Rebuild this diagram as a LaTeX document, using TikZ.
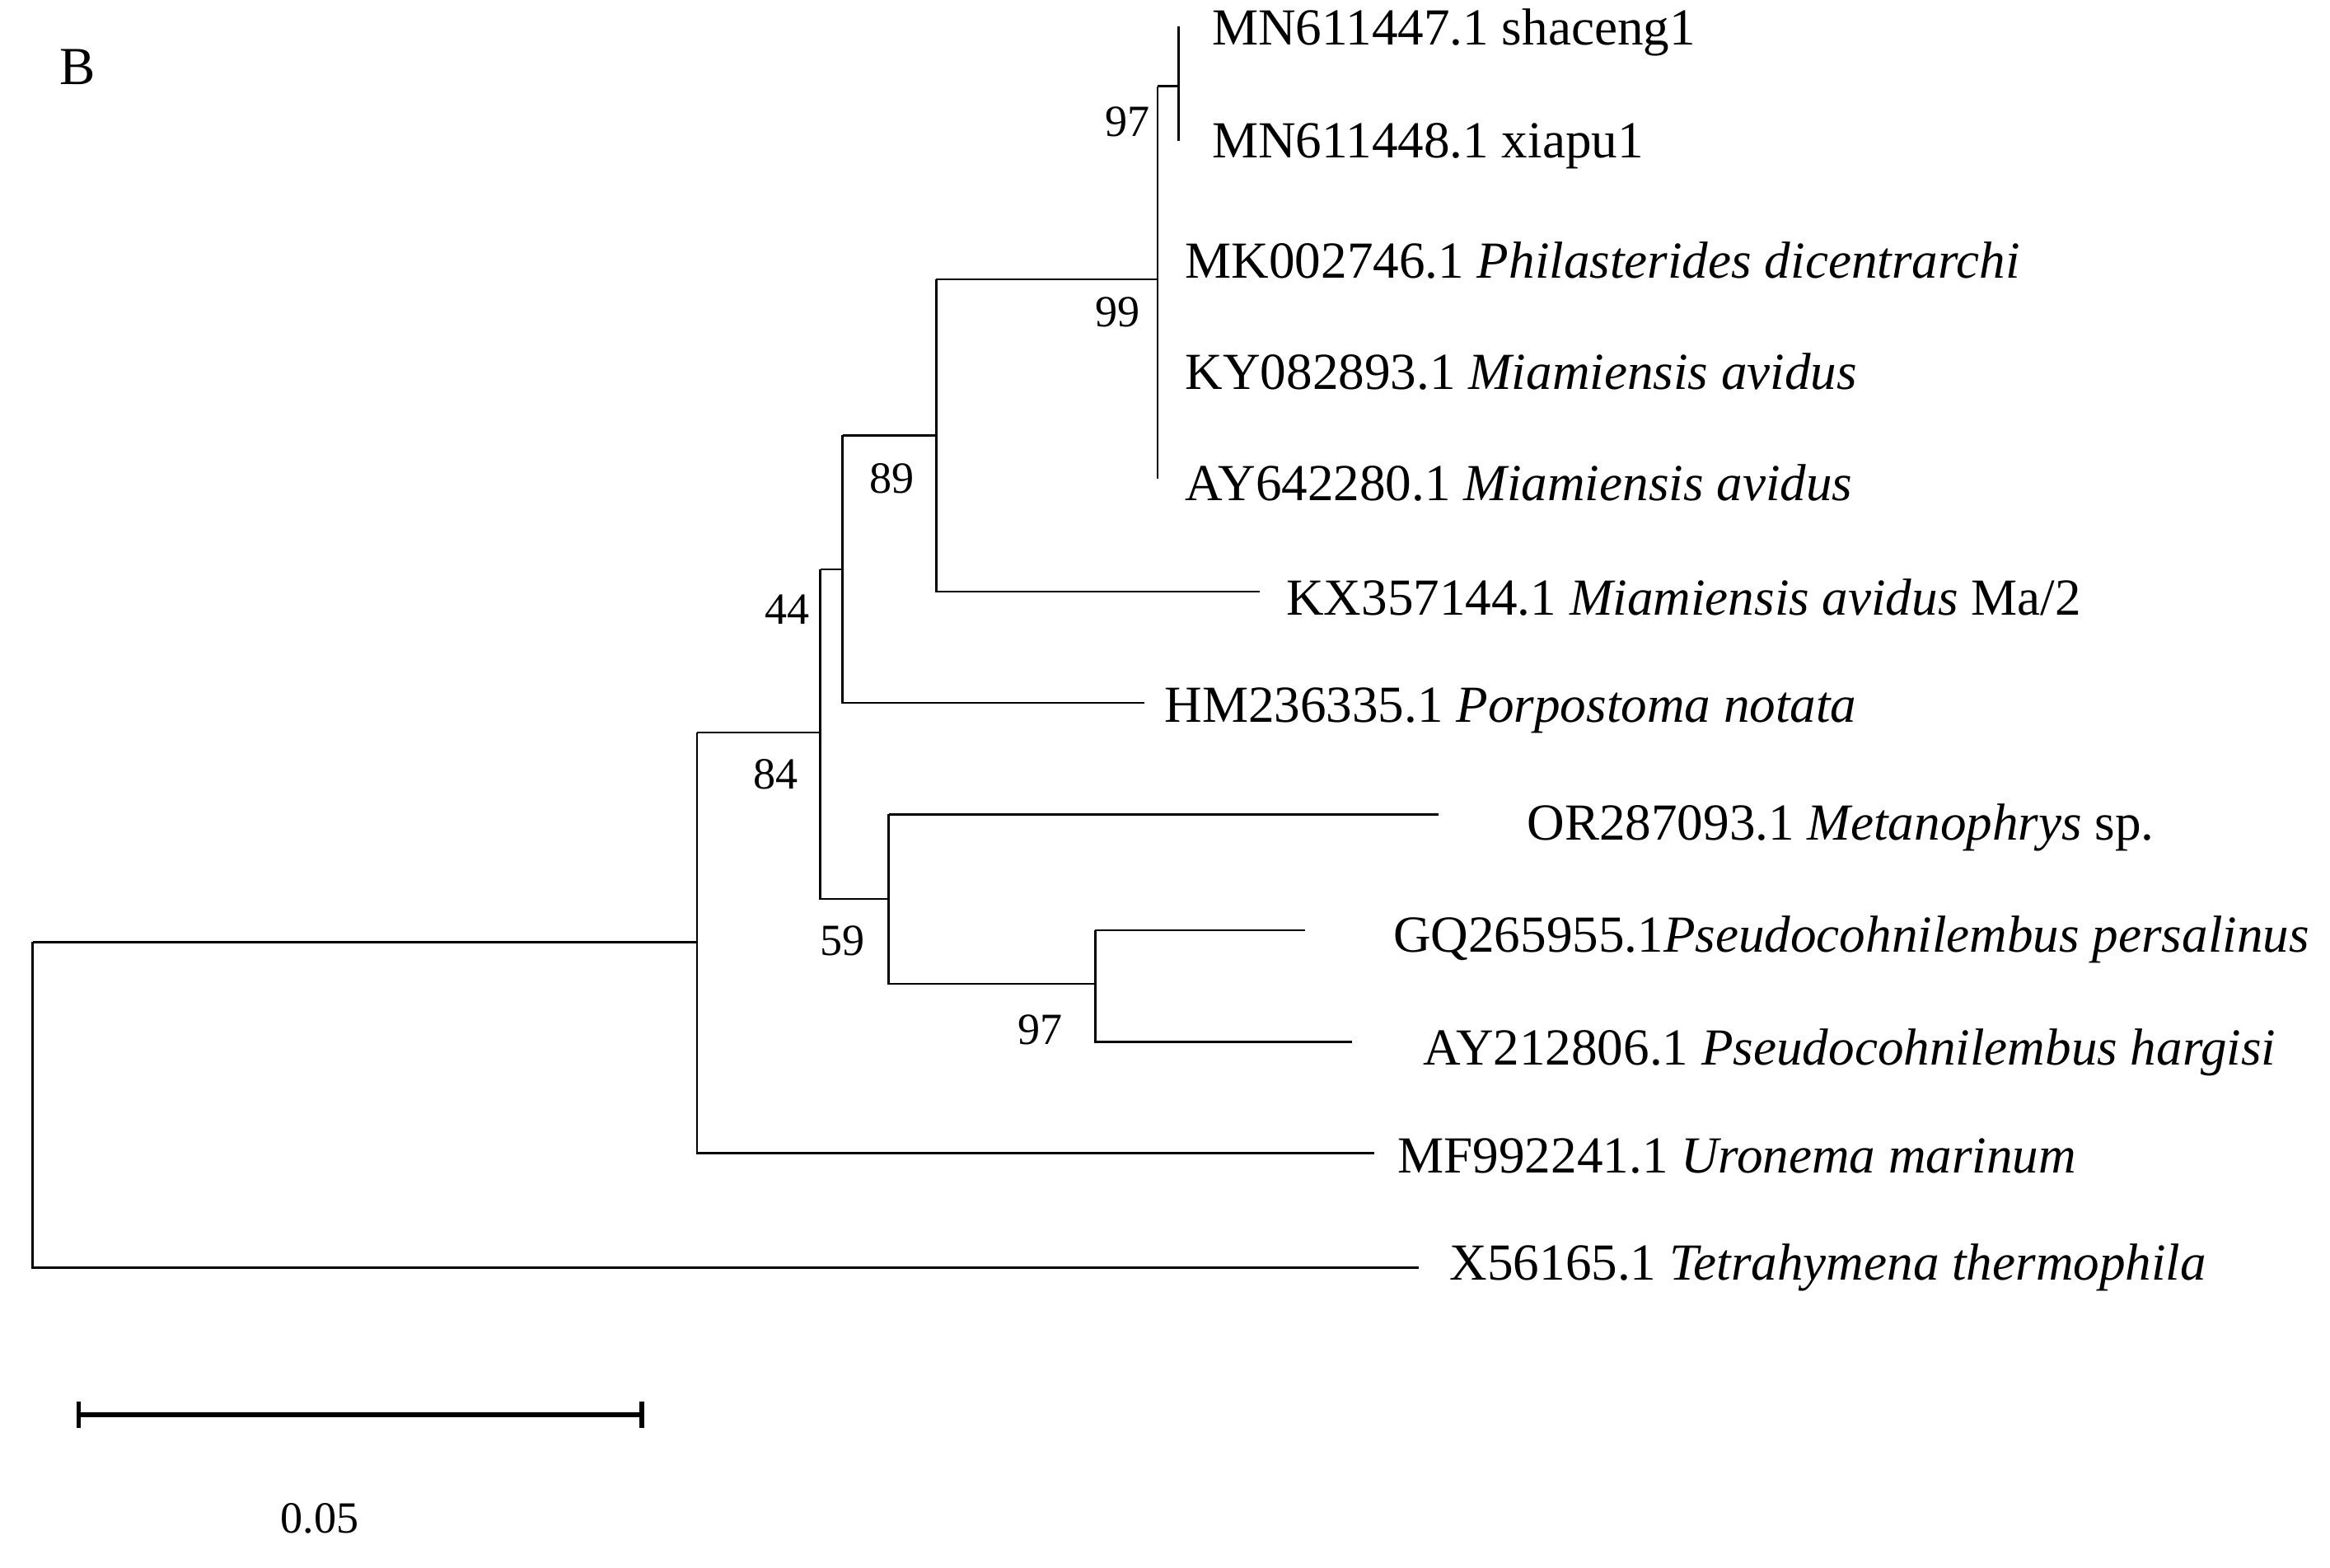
\documentclass[tikz,border=0pt]{standalone}
\usepackage{fontspec}
\setmainfont{Liberation Serif}
\begin{document}
\begin{tikzpicture}[x=0.5pt,y=-0.5pt,line width=0.7pt,
  tip/.style={anchor=west,inner sep=0pt,font=\fontsize{17.5}{20}\selectfont},
  bs/.style={inner sep=0pt,font=\fontsize{15}{18}\selectfont}]
\useasboundingbox (0,0) rectangle (1568,1055);
\node[anchor=center,font=\fontsize{18}{20}\selectfont] (B) at (52,45) {B};
% tips
\node[tip] (t1) at (815,22) {MN611447.1 shaceng1};
\node[tip] (t2) at (815,98) {MN611448.1 xiapu1};
\node[tip] (t3) at (797,175) {MK002746.1 \textit{Philasterides dicentrarchi}};
\node[tip] (t4) at (797,250) {KY082893.1 \textit{Miamiensis avidus}};
\node[tip] (t5) at (797,325) {AY642280.1 \textit{Miamiensis avidus}};
\node[tip] (t6) at (865,402) {KX357144.1 \textit{Miamiensis avidus} Ma/2};
\node[tip] (t7) at (783,478) {HM236335.1 \textit{Porpostoma notata}};
\node[tip] (t8) at (1027,557) {OR287093.1 \textit{Metanophrys} sp.};
\node[tip] (t9) at (937,632) {GQ265955.1\textit{Pseudocohnilembus persalinus}};
\node[tip] (t10) at (957,708) {AY212806.1 \textit{Pseudocohnilembus hargisi}};
\node[tip] (t11) at (940,778) {MF992241.1 \textit{Uronema marinum}};
\node[tip] (t12) at (975,853) {X56165.1 \textit{Tetrahymena thermophila}};
% tree
\draw (793,18) -- (793,95);
\draw (779,58) -- (793,58);
\draw (779,58) -- (779,322);
\draw (630,188) -- (779,188);
\draw (630,188) -- (630,398) -- (848,398);
\draw (567,293) -- (630,293);
\draw (567,293) -- (567,473) -- (770,473);
\draw (552,383) -- (567,383);
\draw (552,383) -- (552,605) -- (598,605);
\draw (598,548) -- (968,548);
\draw (598,548) -- (598,662) -- (737,662);
\draw (737,626) -- (878,626);
\draw (737,626) -- (737,701) -- (910,701);
\draw (469,493) -- (552,493);
\draw (469,493) -- (469,776) -- (925,776);
\draw (22,634) -- (469,634);
\draw (22,634) -- (22,853) -- (955,853);
% bootstrap
\node[bs] (b1) at (759,82) {97};
\node[bs] (b2) at (752,210) {99};
\node[bs] (b3) at (600,322) {89};
\node[bs] (b4) at (530,410) {44};
\node[bs] (b5) at (522,521) {84};
\node[bs] (b6) at (567,633) {59};
\node[bs] (b7) at (700,693) {97};
% scale bar
\coordinate (s1) at (53,952); \coordinate (s2) at (432,952);
\draw[line width=1.6pt] (s1) -- (s2);
\draw[line width=1.6pt] (53,943) -- (53,961);
\draw[line width=1.6pt] (432,943) -- (432,961);
\node[bs] (sc) at (215,1022) {0.05};
\end{tikzpicture}
\end{document}
